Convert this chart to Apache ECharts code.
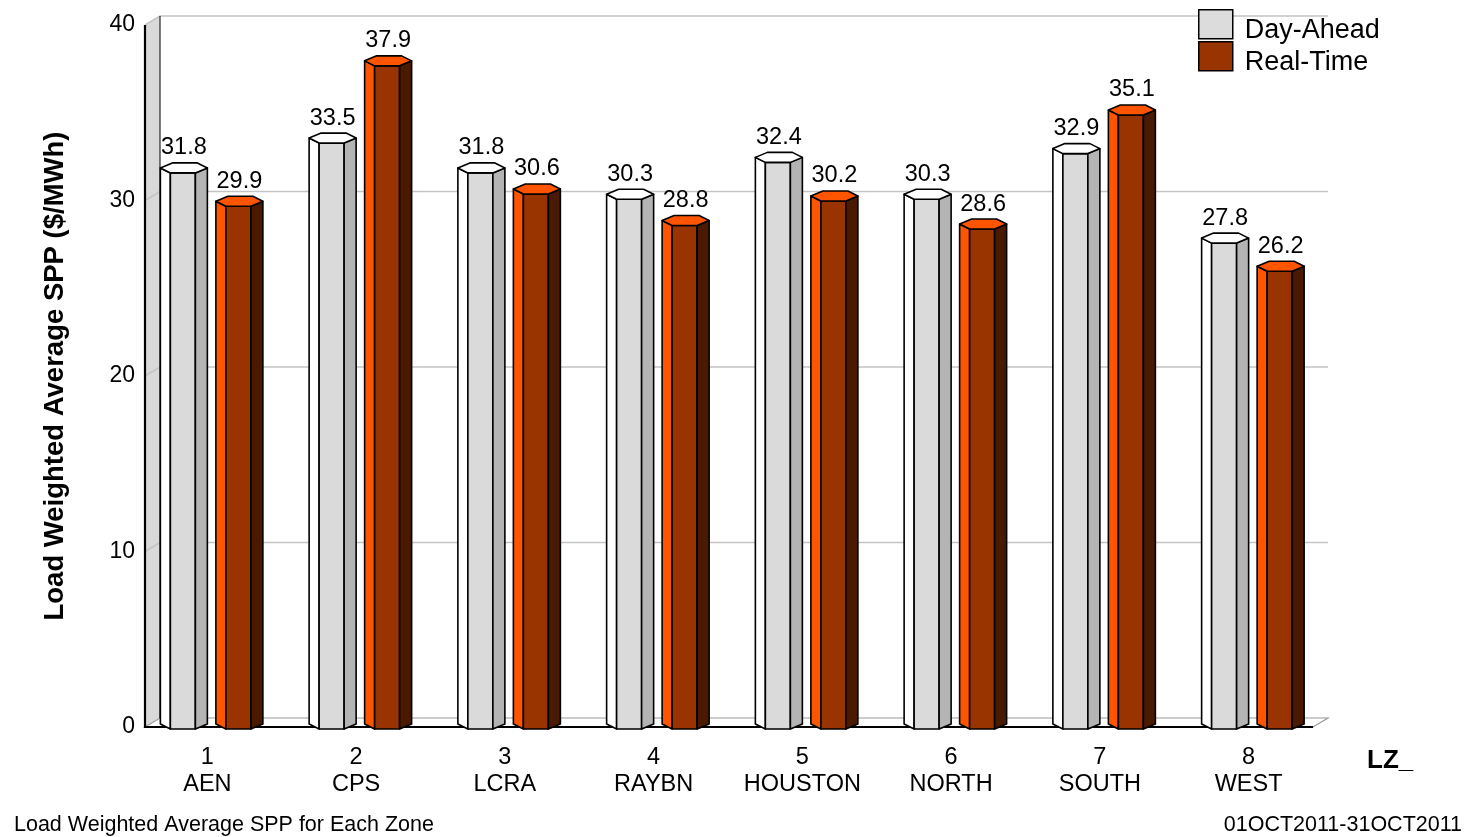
<!DOCTYPE html>
<html>
<head>
<meta charset="utf-8">
<script src="https://cdn.jsdelivr.net/npm/echarts@6/dist/echarts.min.js"></script>
<style>
  html, body { margin: 0; padding: 0; background: #ffffff; }
  #chart { width: 1467px; height: 837px; }
</style>
</head>
<body>
<div id="chart"></div>
<script>
// Load zones and their average settlement point prices ($/MWh), October 2011
const zoneNumbers = ['1', '2', '3', '4', '5', '6', '7', '8'];
const zoneNames = ['AEN', 'CPS', 'LCRA', 'RAYBN', 'HOUSTON', 'NORTH', 'SOUTH', 'WEST'];
const dayAhead = [31.8, 33.5, 31.8, 30.3, 32.4, 30.3, 32.9, 27.8];
const realTime = [29.9, 37.9, 30.6, 28.8, 30.2, 28.6, 35.1, 26.2];
const yTicks = [10, 20, 30, 40];
const seriesNames = ['Day-Ahead', 'Real-Time'];

const FONT = '"Liberation Sans", Arial, sans-serif';
const categories = zoneNumbers.map((n, i) => n + '\n' + zoneNames[i]);

// depth of the pseudo-3D box
const DX = 15, DY = -9;

// walls, floor and gridlines of the 3D frame
function renderFrame(params, api) {
  const cs = params.coordSys;
  const x0 = cs.x + 12;
  const xEnd = cs.x + cs.width - 10;
  const y0 = api.coord([0, 0])[1];
  const yTop = api.coord([0, 40])[1];
  const children = [];
  // left side wall
  children.push({
    type: 'polygon',
    shape: { points: [[x0, yTop], [x0 + DX, yTop + DY], [x0 + DX, y0 + DY], [x0, y0]] },
    style: { fill: '#d9d9d9', stroke: null }
  });
  // floor
  children.push({
    type: 'polygon',
    shape: { points: [[x0, y0], [x0 + DX, y0 + DY], [xEnd + DX, y0 + DY], [xEnd, y0]] },
    style: { fill: '#ffffff', stroke: '#9a9a9a', lineWidth: 1.2 }
  });
  // gridlines: diagonal on the side wall, then across the back wall
  yTicks.forEach(t => {
    const y = api.coord([0, t])[1];
    children.push({
      type: 'polyline',
      shape: { points: [[x0, y], [x0 + DX, y + DY], [xEnd + DX, y + DY]] },
      style: { stroke: '#c4c4c4', lineWidth: 1.5, fill: null }
    });
  });
  // back edge of side wall
  children.push({
    type: 'line',
    shape: { x1: x0 + DX, y1: yTop + DY, x2: x0 + DX, y2: y0 + DY },
    style: { stroke: '#000', lineWidth: 1 }
  });
  // front value axis line
  children.push({
    type: 'line',
    shape: { x1: x0, y1: yTop, x2: x0, y2: y0 + 1 },
    style: { stroke: '#000', lineWidth: 2.2 }
  });
  // front baseline
  children.push({
    type: 'line',
    shape: { x1: x0, y1: y0, x2: xEnd, y2: y0 },
    style: { stroke: '#000', lineWidth: 2.2 }
  });
  return { type: 'group', children: children };
}

// hexagonal prism bar
function prismRenderer(shiftX, colors) {
  return function (params, api) {
    const i = api.value(0);
    const v = api.value(1);
    const top = api.coord([i, v]);
    const base = api.coord([i, 0]);
    const cx = top[0] + shiftX;
    const yt = top[1] - 1;
    const yb = base[1] - 3;
    const hw = 23.5, h = 5;
    const xL = cx - hw, xR = cx + hw;
    const xFL = cx - 13.5, xFR = cx + 11.5;
    const xBL = cx - 11.5, xBR = cx + 13.5;
    const stroke = { stroke: '#000', lineWidth: 1.6, lineJoin: 'round' };
    const children = [
      { type: 'polygon', shape: { points: [[xL, yt], [xFL, yt + h], [xFL, yb + h], [xL, yb]] },
        style: Object.assign({ fill: colors.left }, stroke) },
      { type: 'polygon', shape: { points: [[xFL, yt + h], [xFR, yt + h], [xFR, yb + h], [xFL, yb + h]] },
        style: Object.assign({ fill: colors.front }, stroke) },
      { type: 'polygon', shape: { points: [[xFR, yt + h], [xR, yt], [xR, yb], [xFR, yb + h]] },
        style: Object.assign({ fill: colors.right }, stroke) },
      { type: 'polygon', shape: { points: [[xL, yt], [xBL, yt - h], [xBR, yt - h], [xR, yt], [xFR, yt + h], [xFL, yt + h]] },
        style: Object.assign({ fill: colors.top }, stroke) },
      { type: 'text',
        style: { text: v.toFixed(1), x: cx, y: yt - h - 3, align: 'center', verticalAlign: 'bottom',
                 fontSize: 23.5, fontFamily: FONT, fill: '#000' } }
    ];
    return { type: 'group', children: children };
  };
}

// swatch sits in the upper part of the icon box so the label reads slightly lower
const SWATCH_ICON = 'path://M0,0L34,0L34,29L0,29Z M0,42';

// one legend block per series
function legendBlock(name, top) {
  return {
    left: 1198,
    top: top,
    padding: 0,
    itemWidth: 34,
    itemHeight: 42,
    icon: SWATCH_ICON,
    data: [name],
    itemStyle: { borderColor: '#000', borderWidth: 1.5 },
    textStyle: { fontSize: 27, color: '#000', fontFamily: FONT, padding: [0, 0, 0, 7] }
  };
}

const chart = echarts.init(document.getElementById('chart'), null, { renderer: 'canvas' });

chart.setOption({
  backgroundColor: '#ffffff',
  animation: false,
  textStyle: { fontFamily: FONT },
  grid: { left: 133, right: 144, top: 25, bottom: 110, containLabel: false },
  legend: [legendBlock(seriesNames[0], 9), legendBlock(seriesNames[1], 41)],
  xAxis: {
    type: 'category',
    data: categories,
    name: 'LZ_',
    nameLocation: 'end',
    nameGap: 44,
    nameTextStyle: { fontSize: 26, fontWeight: 'bold', color: '#000', fontFamily: FONT,
                     verticalAlign: 'top', padding: [21, 0, 0, 0] },
    axisLine: { show: false },
    axisTick: { show: false },
    axisLabel: { interval: 0, hideOverlap: false, fontSize: 23.5, color: '#000', fontFamily: FONT,
                 lineHeight: 27, margin: 17 },
    splitLine: { show: false }
  },
  yAxis: {
    type: 'value',
    min: 0,
    max: 40,
    interval: 10,
    offset: -12,
    name: 'Load Weighted Average SPP ($/MWh)',
    nameLocation: 'middle',
    nameRotate: 90,
    nameGap: 76,
    nameTextStyle: { fontSize: 27.5, fontWeight: 'bold', color: '#000', fontFamily: FONT },
    axisLine: { show: false },
    axisTick: { show: false },
    axisLabel: { fontSize: 23, color: '#000', fontFamily: FONT, margin: 10 },
    splitLine: { show: false }
  },
  series: [
    {
      name: 'frame',
      type: 'custom',
      silent: true,
      z: 1,
      data: [[0, 0]],
      encode: { x: 0, y: 1 },
      renderItem: renderFrame
    },
    {
      name: seriesNames[0],
      type: 'custom',
      z: 2,
      itemStyle: { color: '#dcdcdc', borderColor: '#000', borderWidth: 1.5 },
      data: dayAhead.map((v, i) => [i, v]),
      encode: { x: 0, y: 1 },
      renderItem: prismRenderer(-23.5, { left: '#ffffff', front: '#dadada', right: '#b4b4b4', top: '#ffffff' })
    },
    {
      name: seriesNames[1],
      type: 'custom',
      z: 2,
      itemStyle: { color: '#993300', borderColor: '#000', borderWidth: 1.5 },
      data: realTime.map((v, i) => [i, v]),
      encode: { x: 0, y: 1 },
      renderItem: prismRenderer(32, { left: '#ff5500', front: '#993300', right: '#4a1a00', top: '#ff5500' })
    }
  ],
  graphic: [
    { type: 'text', left: 14, top: 814,
      style: { text: 'Load Weighted Average SPP for Each Zone', fontSize: 21.5, fontFamily: FONT, fill: '#000' } },
    { type: 'text', right: 5, top: 814,
      style: { text: '01OCT2011-31OCT2011', fontSize: 21.5, fontFamily: FONT, fill: '#000' } }
  ]
});
</script>
</body>
</html>
